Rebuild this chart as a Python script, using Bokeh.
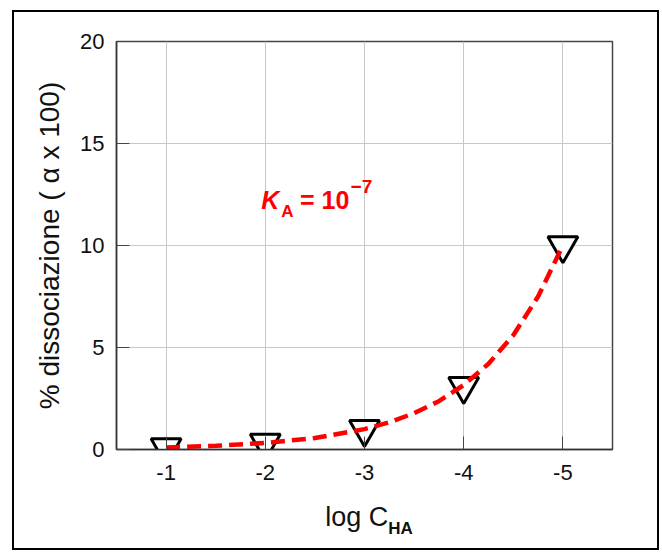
from bokeh.plotting import figure
from bokeh.models import Range1d, FixedTicker, Label, ColumnDataSource, Div
from bokeh.layouts import column
from bokeh.embed import file_html
from bokeh.resources import INLINE

# ---- data ----
log_c = [-1, -2, -3, -4, -5]
alpha_pct = [0.1, 0.32, 1.0, 3.1, 10.0]

curve_log_c = [-1.0, -1.5, -2.0, -2.5, -3.0, -3.25, -3.5, -3.75, -4.0, -4.25, -4.5, -4.75, -5.0]
curve_alpha = [0.10, 0.18, 0.32, 0.56, 1.0, 1.33, 1.78, 2.37, 3.16, 4.2, 5.6, 7.5, 10.0]

x_ticks = [-1, -2, -3, -4, -5]
x_tick_labels = ["-1", "-2", "-3", "-4", "-5"]
y_ticks = [0, 5, 10, 15, 20]
y_tick_labels = ["0", "5", "10", "15", "20"]

y_title = "% dissociazione ( \u03b1 x 100)"
x_title_main = "log C"
x_title_sub = "HA"

FONT = "Liberation Sans"
RED = "#ff0000"
TXT = "#111111"

p = figure(
    width=643, height=490,
    x_range=Range1d(-0.5, -5.5), y_range=Range1d(0, 20),
    output_backend="svg", toolbar_location=None,
    min_border_left=102, min_border_top=29, min_border_right=45, min_border_bottom=53,
)
p.background_fill_color = "white"
p.border_fill_color = "white"
p.outline_line_color = "#444444"
p.outline_line_width = 1.5

# axes
p.xaxis.ticker = FixedTicker(ticks=x_ticks)
p.xaxis.major_label_overrides = {t: l for t, l in zip(x_ticks, x_tick_labels)}
p.yaxis.ticker = FixedTicker(ticks=y_ticks)
p.yaxis.major_label_overrides = {t: l for t, l in zip(y_ticks, y_tick_labels)}
for ax in (p.xaxis, p.yaxis):
    ax.major_label_text_font = FONT
    ax.major_label_text_font_size = "22px"
    ax.major_label_text_color = TXT
    ax.major_tick_in = 13
    ax.major_tick_out = 0
    ax.major_tick_line_color = "#444444"
    ax.minor_tick_line_color = None
    ax.axis_line_color = "#333333"
    ax.axis_line_width = 1.5
p.xaxis.major_label_standoff = 15
p.yaxis.major_label_standoff = 12

p.yaxis.axis_label = y_title
p.yaxis.axis_label_text_font = FONT
p.yaxis.axis_label_text_font_size = "28px"
p.yaxis.axis_label_text_font_style = "normal"
p.yaxis.axis_label_text_color = TXT
p.yaxis.axis_label_standoff = 12

p.grid.grid_line_color = "#c8c8c8"
p.grid.grid_line_width = 1
p.xgrid.ticker = FixedTicker(ticks=x_ticks)
p.ygrid.ticker = FixedTicker(ticks=y_ticks)

# markers
pts = ColumnDataSource(dict(x=log_c, y=alpha_pct))
p.scatter("x", "y", source=pts, marker="inverted_triangle", size=30,
          fill_color="white", line_color="black", line_width=3)

# dashed curve on top
cur = ColumnDataSource(dict(x=curve_log_c, y=curve_alpha))
p.line("x", "y", source=cur, line_color=RED, line_width=4.5, line_dash="14 7")

# K_A = 10^-7 annotation
p.add_layout(Label(x=-1.96, y=12.24, text="K", text_font=FONT, text_font_style="bold italic",
                   text_font_size="25px", text_color=RED, text_baseline="alphabetic"))
p.add_layout(Label(x=-2.16, y=11.67, text="A", text_font=FONT, text_font_style="bold",
                   text_font_size="17px", text_color=RED, text_baseline="alphabetic"))
p.add_layout(Label(x=-2.35, y=12.24, text="= 10", text_font=FONT, text_font_style="bold",
                   text_font_size="25px", text_color=RED, text_baseline="alphabetic"))
p.add_layout(Label(x=-2.86, y=12.88, text="\u22127", text_font=FONT, text_font_style="bold",
                   text_font_size="19px", text_color=RED, text_baseline="alphabetic"))

# x-axis title with subscript (HTML text below the plot)
xdiv = Div(
    text=(
        f'<div style="box-sizing:border-box;width:643px;padding-left:67px;padding-top:0px;'
        f'text-align:center;font-family:\'{FONT}\';font-size:27px;line-height:30px;color:{TXT};">'
        f'{x_title_main}<span style="font-size:17px;font-weight:bold;position:relative;top:8px;'
        f'line-height:0;">{x_title_sub}</span></div>'
    ),
    width=643, height=46,
)
xdiv.margin = (0, 0, 0, 0)

layout = column(p, xdiv)
layout.margin = (10, 0, 0, 12)
layout.styles = {"border": "2px solid black", "background-color": "white"}
layout.spacing = 0

open("out.html", "w").write(file_html(layout, INLINE))
